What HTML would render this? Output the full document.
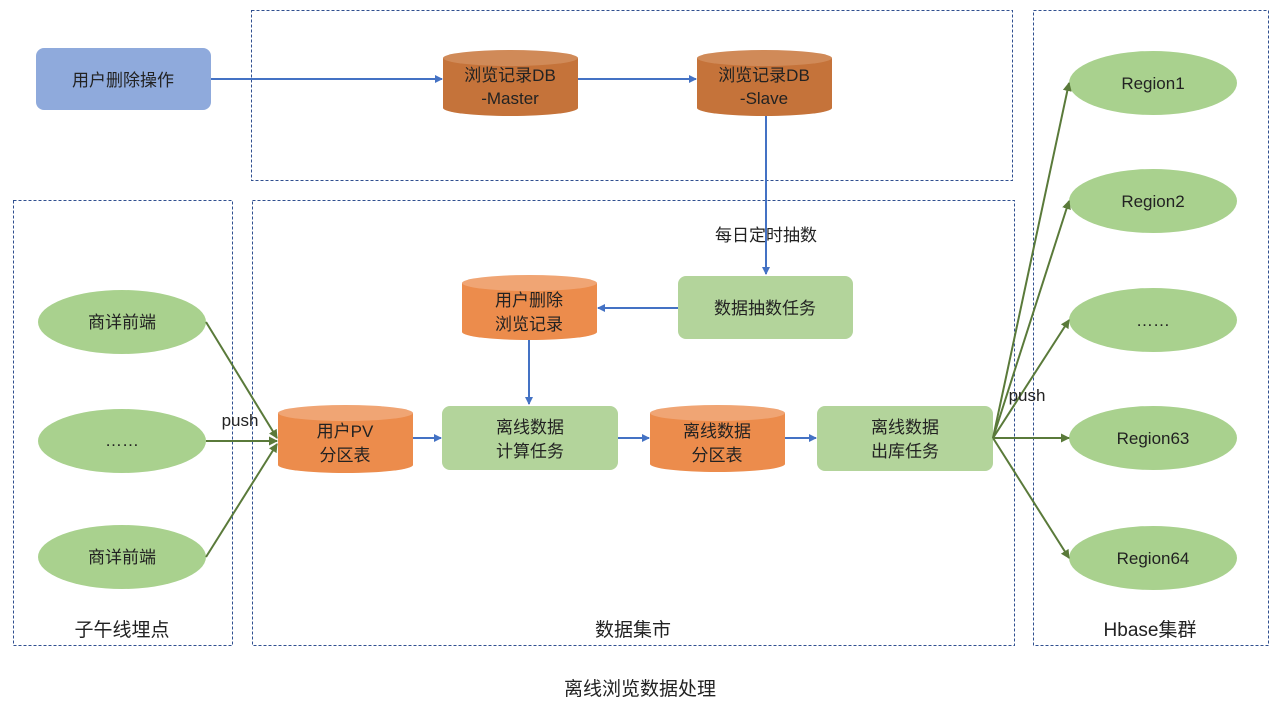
<!DOCTYPE html>
<html><head><meta charset="utf-8"><style>
html,body{margin:0;padding:0;background:#fff;}
svg{display:block;font-family:"Liberation Sans","Noto Sans CJK SC",sans-serif;}
</style></head><body>
<svg width="1280" height="707" viewBox="0 0 1280 707" xmlns="http://www.w3.org/2000/svg">
<defs>
<marker id="ab" markerWidth="8" markerHeight="8" refX="7" refY="4" orient="auto" markerUnits="userSpaceOnUse"><path d="M0,0 L8,4 L0,8 z" fill="#4472c4"/></marker>
<marker id="ag" markerWidth="9" markerHeight="9" refX="8" refY="4.5" orient="auto" markerUnits="userSpaceOnUse"><path d="M0,0 L9,4.5 L0,9 z" fill="#5a7a3a"/></marker>
</defs>
<g fill="none" stroke="#2f4f8f" stroke-width="1" stroke-dasharray="3,2">
<rect x="251.5" y="10.5" width="761" height="170"/>
<rect x="13.5" y="200.5" width="219" height="445"/>
<rect x="252.5" y="200.5" width="762" height="445"/>
<rect x="1033.5" y="10.5" width="235" height="635"/>
</g>
<rect x="36" y="48" width="175" height="62" rx="8" fill="#8faadc"/>
<text x="123" y="86" font-size="17" text-anchor="middle" fill="#222">用户删除操作</text>
<g stroke="#4472c4" stroke-width="2" fill="none">
<line x1="211" y1="79" x2="442" y2="79" marker-end="url(#ab)"/>
<line x1="578" y1="79" x2="696" y2="79" marker-end="url(#ab)"/>
<line x1="766" y1="115" x2="766" y2="274" marker-end="url(#ab)"/>
<line x1="678" y1="308" x2="598" y2="308" marker-end="url(#ab)"/>
<line x1="529" y1="340" x2="529" y2="404" marker-end="url(#ab)"/>
<line x1="413" y1="438" x2="441" y2="438" marker-end="url(#ab)"/>
<line x1="618" y1="438" x2="649" y2="438" marker-end="url(#ab)"/>
<line x1="785" y1="438" x2="816" y2="438" marker-end="url(#ab)"/>
</g>
<!-- cylinders -->
<g>
<path d="M443,58 v50 a67.5,8 0 0 0 135,0 v-50 z" fill="#c5733a"/>
<ellipse cx="510.5" cy="58" rx="67.5" ry="8" fill="#d08a58"/>
<path d="M697,58 v50 a67.5,8 0 0 0 135,0 v-50 z" fill="#c5733a"/>
<ellipse cx="764.5" cy="58" rx="67.5" ry="8" fill="#d08a58"/>
<path d="M462,283 v49 a67.5,8 0 0 0 135,0 v-49 z" fill="#ec8c4c"/>
<ellipse cx="529.5" cy="283" rx="67.5" ry="8" fill="#f0a574"/>
<path d="M278,413 v52 a67.5,8 0 0 0 135,0 v-52 z" fill="#ec8c4c"/>
<ellipse cx="345.5" cy="413" rx="67.5" ry="8" fill="#f0a574"/>
<path d="M650,413 v51 a67.5,8 0 0 0 135,0 v-51 z" fill="#ec8c4c"/>
<ellipse cx="717.5" cy="413" rx="67.5" ry="8" fill="#f0a574"/>
</g>
<g font-size="17" text-anchor="middle" fill="#222">
<text x="510" y="81">浏览记录DB</text><text x="510" y="104">-Master</text>
<text x="764" y="81">浏览记录DB</text><text x="764" y="104">-Slave</text>
<text x="529" y="306">用户删除</text><text x="529" y="330">浏览记录</text>
<text x="345" y="437">用户PV</text><text x="345" y="461">分区表</text>
<text x="717" y="437">离线数据</text><text x="717" y="461">分区表</text>
</g>
<g fill="#a9d18e">
<rect x="678" y="276" width="175" height="63" rx="8" fill="#b3d49b"/>
<rect x="442" y="406" width="176" height="64" rx="8" fill="#b3d49b"/>
<rect x="817" y="406" width="176" height="65" rx="8" fill="#b3d49b"/>
<ellipse cx="122" cy="322" rx="84" ry="32"/>
<ellipse cx="122" cy="441" rx="84" ry="32"/>
<ellipse cx="122" cy="557" rx="84" ry="32"/>
<ellipse cx="1153" cy="83" rx="84" ry="32"/>
<ellipse cx="1153" cy="201" rx="84" ry="32"/>
<ellipse cx="1153" cy="320" rx="84" ry="32"/>
<ellipse cx="1153" cy="438" rx="84" ry="32"/>
<ellipse cx="1153" cy="558" rx="84" ry="32"/>
</g>
<g stroke="#5a7a3a" stroke-width="2" fill="none">
<line x1="206" y1="322" x2="277" y2="438" marker-end="url(#ag)"/>
<line x1="206" y1="441" x2="277" y2="441" marker-end="url(#ag)"/>
<line x1="206" y1="557" x2="277" y2="444" marker-end="url(#ag)"/>
<line x1="993" y1="438" x2="1069" y2="83" marker-end="url(#ag)"/>
<line x1="993" y1="438" x2="1069" y2="201" marker-end="url(#ag)"/>
<line x1="993" y1="438" x2="1069" y2="320" marker-end="url(#ag)"/>
<line x1="993" y1="438" x2="1069" y2="438" marker-end="url(#ag)"/>
<line x1="993" y1="438" x2="1069" y2="558" marker-end="url(#ag)"/>
</g>
<g font-size="17" text-anchor="middle" fill="#222">
<text x="765" y="314">数据抽数任务</text>
<text x="530" y="433">离线数据</text><text x="530" y="457">计算任务</text>
<text x="905" y="433">离线数据</text><text x="905" y="457">出库任务</text>
<text x="122" y="328">商详前端</text>
<text x="122" y="446">……</text>
<text x="122" y="563">商详前端</text>
<text x="1153" y="89">Region1</text>
<text x="1153" y="207">Region2</text>
<text x="1153" y="326">……</text>
<text x="1153" y="444">Region63</text>
<text x="1153" y="564">Region64</text>
<text x="766" y="241">每日定时抽数</text>
<text x="240" y="426">push</text>
<text x="1027" y="401">push</text>
<text x="122" y="636" font-size="19">子午线埋点</text>
<text x="633" y="636" font-size="19">数据集市</text>
<text x="1150" y="636" font-size="19">Hbase集群</text>
<text x="640" y="695" font-size="19">离线浏览数据处理</text>
</g>
</svg>
</body></html>
